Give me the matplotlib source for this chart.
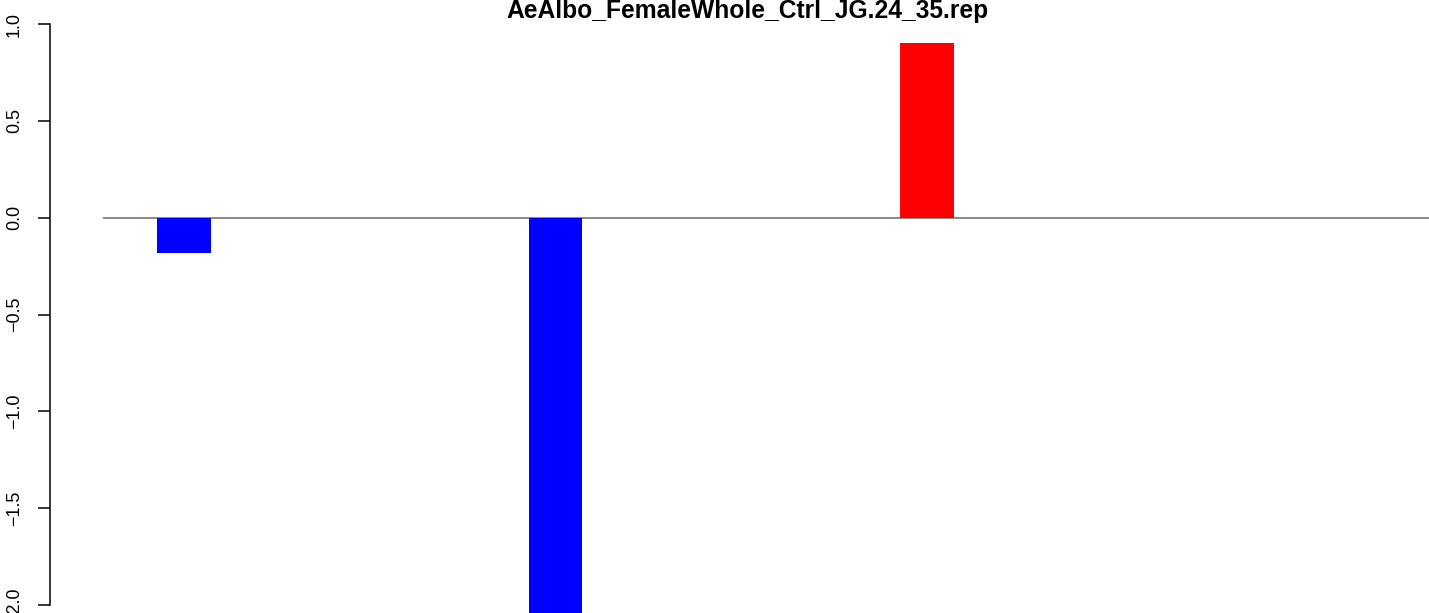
import numpy as np
import matplotlib
matplotlib.use("Agg")
import matplotlib.pyplot as plt

plt.rcParams['font.family'] = ['Liberation Sans', 'DejaVu Sans']

# data
title = "AeAlbo_FemaleWhole_Ctrl_JG.24_35.rep"
positions = [0, 1, 2]
values = [-0.184, -2.06, 0.904]
colours = ["#0000FF", "#0000FF", "#FF0000"]
yticks = [-2.0, -1.5, -1.0, -0.5, 0.0, 0.5, 1.0]

W, H = 1429, 613
fig = plt.figure(figsize=(W/100, H/100), dpi=100)
# axes from the axis line (x=50px) to right edge
ax = fig.add_axes([50/W, 0, 1 - 50/W, 1])

ax.bar(positions, values, width=0.145, color=colours, zorder=2)

# zero reference line, starts a bit right of the axis
ax.hlines(0, -0.218, 3.5, color="#777777", lw=1.2, zorder=1)

ax.set_xlim(-0.3607, 3.351)
ax.set_ylim(-2.041, 1.124)

for s in ["top", "right", "bottom"]:
    ax.spines[s].set_visible(False)
ax.spines["left"].set_bounds(-2, 1)
ax.spines["left"].set_linewidth(1.1)
ax.set_xticks([])
ax.set_yticks(yticks)
ax.set_yticklabels([("%.1f" % t).replace("-", "\u2212") for t in yticks],
                   rotation=90, va="center", fontsize=13)
ax.tick_params(axis="y", length=8.6, width=1.1, pad=11)

fig.text(747/W, 1 - 18/H, title, ha="center", va="baseline",
         fontsize=17.7, fontweight="bold")

fig.savefig("out.png", dpi=100)
